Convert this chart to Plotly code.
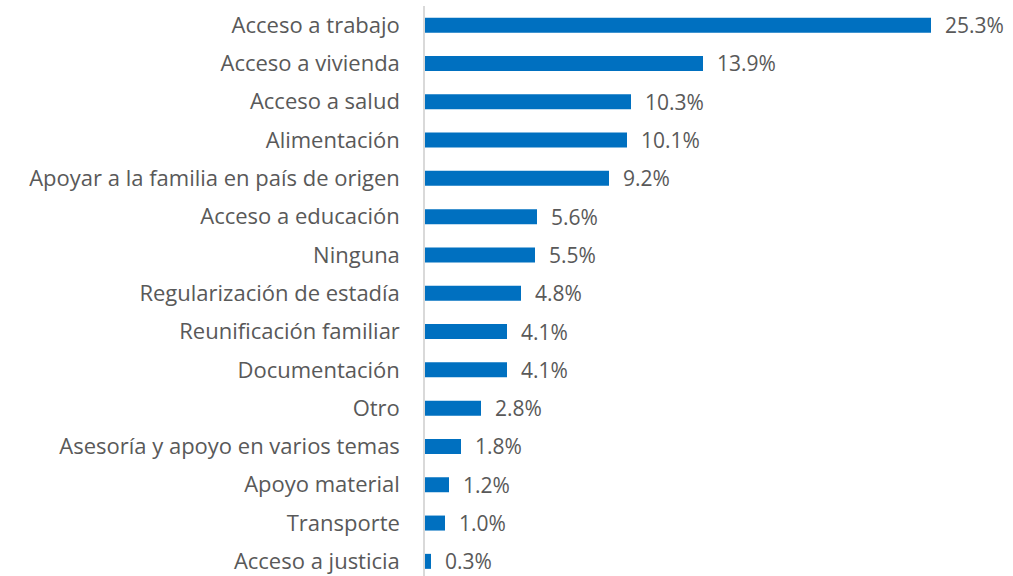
import plotly.graph_objects as go

categories = [
    "Acceso a trabajo",
    "Acceso a vivienda",
    "Acceso a salud",
    "Alimentación",
    "Apoyar a la familia en país de origen",
    "Acceso a educación",
    "Ninguna",
    "Regularización de estadía",
    "Reunificación familiar",
    "Documentación",
    "Otro",
    "Asesoría y apoyo en varios temas",
    "Apoyo material",
    "Transporte",
    "Acceso a justicia",
]
values = [25.3, 13.9, 10.3, 10.1, 9.2, 5.6, 5.5, 4.8, 4.1, 4.1, 2.8, 1.8, 1.2, 1.0, 0.3]

BAR_COLOR = "#0070C0"
TEXT_COLOR = "#595959"
FONT = "Open Sans"
LABEL_SIZE = 22
VALUE_SIZE = 21

positions = list(range(len(categories)))

fig = go.Figure(
    go.Bar(
        x=values,
        y=positions,
        orientation="h",
        marker=dict(color=BAR_COLOR, line=dict(width=0)),
        hoverinfo="skip",
    )
)

for v, p in zip(values, positions):
    fig.add_annotation(
        x=v, y=p, xref="x", yref="y",
        text=f"{v:.1f}%",
        showarrow=False,
        xanchor="left", yanchor="middle",
        xshift=12,
        font=dict(family=FONT, size=VALUE_SIZE, color=TEXT_COLOR),
    )

plot_top = 6
band = 38.3
plot_h = 576 - plot_top
bottom_val = -0.5 + plot_h / band

fig.update_layout(
    width=1013,
    height=576,
    margin=dict(l=425, r=0, t=plot_top, b=0),
    paper_bgcolor="white",
    plot_bgcolor="white",
    bargap=1 - 15 / band,
    showlegend=False,
    font=dict(family=FONT, size=LABEL_SIZE, color=TEXT_COLOR),
    xaxis=dict(
        range=[0, 588 / 20.0],
        showgrid=False,
        zeroline=False,
        showticklabels=False,
        showline=False,
        ticks="",
    ),
    yaxis=dict(
        range=[bottom_val, -0.5],
        tickmode="array",
        tickvals=positions,
        ticktext=categories,
        showgrid=False,
        zeroline=False,
        showline=True,
        linecolor="#D9D9D9",
        linewidth=1.5,
        ticks="",
        ticklabelstandoff=19,
        tickfont=dict(family=FONT, size=LABEL_SIZE, color=TEXT_COLOR),
    ),
)

fig.write_html("out.html")
